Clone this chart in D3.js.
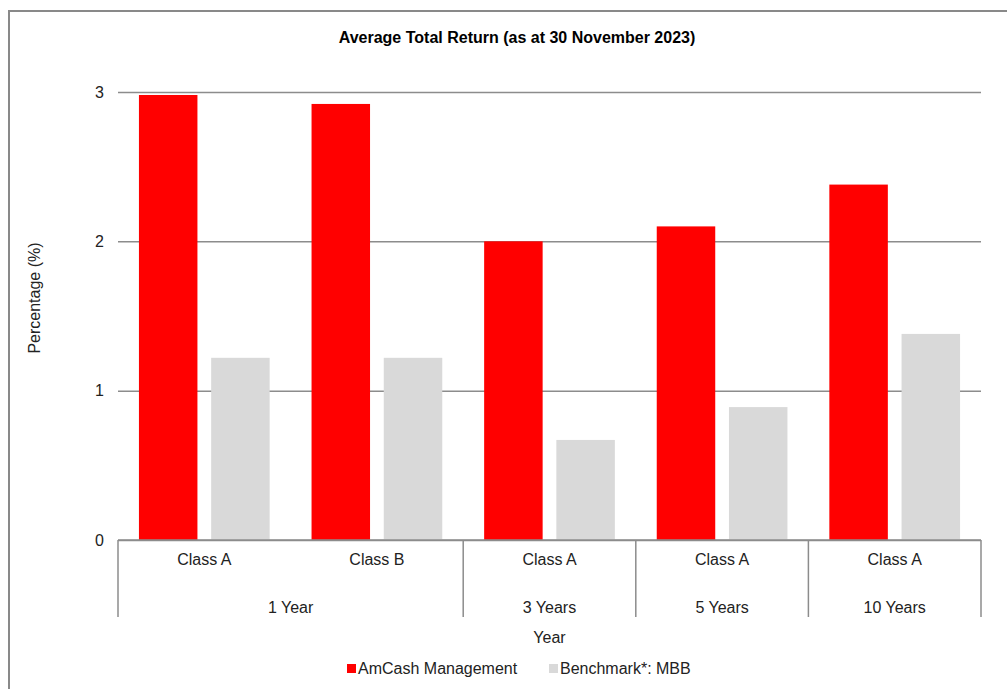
<!DOCTYPE html>
<html>
<head>
<meta charset="utf-8">
<script src="https://cdn.jsdelivr.net/npm/d3@7"></script>
<style>
	body { margin: 0; background: #fff; }
	svg text { font-family: "Liberation Sans", Arial, sans-serif; fill: #222; }
</style>
</head>
<body>
<div id="chart"></div>
<script>
'use strict'

/**
 * Average total return bar chart, two level category axis
 */

const classLabels = ['Class A', 'Class B', 'Class A', 'Class A', 'Class A'];
const periodLabels = ['1 Year', '1 Year', '3 Years', '5 Years', '10 Years'];
const seriesNames = ['AmCash Management', 'Benchmark*: MBB'];
const amcashValues = [2.98, 2.92, 2.00, 2.10, 2.38];
const benchmarkValues = [1.22, 1.22, 0.67, 0.89, 1.38];
const yTicks = [0, 1, 2, 3];

const colors = ['#ff0000', '#d9d9d9'];
const lineColor = '#8c8c8c';

const width = 1007;
const height = 689;
const plot = { left: 118, right: 981, top: 92, bottom: 540 };

const svg = d3.select('#chart')
	.append('svg')
	.attr('width', width)
	.attr('height', height);

// Cadre du graphique
svg.append('rect')
	.attr('x', 9)
	.attr('y', 11)
	.attr('width', 1040)
	.attr('height', 700)
	.attr('fill', 'white')
	.attr('stroke', '#898989')
	.attr('stroke-width', 2);

svg.append('text')
	.attr('x', 517)
	.attr('y', 43)
	.attr('text-anchor', 'middle')
	.style('font-size', '16px')
	.style('font-weight', 'bold')
	.style('fill', '#000')
	.text('Average Total Return (as at 30 November 2023)');

const categories = classLabels.map((c, i) => periodLabels[i] + ' ' + c);

const x0 = d3.scaleBand()
	.domain(categories)
	.range([plot.left, plot.right]);

const x1 = d3.scaleBand()
	.domain(seriesNames)
	.range([0, x0.bandwidth()])
	.paddingInner(0.19)
	.paddingOuter(0.29);

const y = d3.scaleLinear()
	.domain([0, 3])
	.range([plot.bottom, plot.top]);

// Grille horizontale
const yAxis = svg.append('g')
	.attr('transform', `translate(${plot.left},0)`)
	.call(d3.axisLeft(y).tickValues(yTicks).tickSize(-(plot.right - plot.left)).tickPadding(14).tickFormat(d3.format('d')));
yAxis.select('.domain').remove();
yAxis.selectAll('line').attr('stroke', lineColor).attr('stroke-width', 1.5);
yAxis.selectAll('text').style('font-size', '16px').style('fill', '#222');

// Barres
const rows = categories.map((c, i) => ({ cat: c, values: [amcashValues[i], benchmarkValues[i]] }));

svg.append('g')
	.selectAll('g')
	.data(rows)
	.enter()
	.append('g')
		.attr('transform', d => `translate(${x0(d.cat)},0)`)
	.selectAll('rect')
	.data(d => d.values.map((v, k) => ({ name: seriesNames[k], value: v, k: k })))
	.enter()
	.append('rect')
		.attr('x', d => x1(d.name))
		.attr('y', d => y(d.value))
		.attr('width', x1.bandwidth())
		.attr('height', d => y(0) - y(d.value))
		.attr('fill', d => colors[d.k]);

// Axe des catégories à deux niveaux
const axisG = svg.append('g');
const axisBottom = 617;

axisG.append('line')
	.attr('x1', plot.left).attr('x2', plot.right)
	.attr('y1', y(0)).attr('y2', y(0))
	.attr('stroke', lineColor).attr('stroke-width', 1.5);

axisG.selectAll('text.cls')
	.data(categories)
	.enter()
	.append('text')
		.attr('class', 'cls')
		.attr('x', d => x0(d) + x0.bandwidth() / 2)
		.attr('y', 565)
		.attr('text-anchor', 'middle')
		.style('font-size', '16px')
		.text((d, i) => classLabels[i]);

const groups = d3.groups(categories.map((c, i) => ({ cat: c, period: periodLabels[i] })), d => d.period)
	.map(([period, items]) => ({
		period: period,
		x1: x0(items[0].cat),
		x2: x0(items[items.length - 1].cat) + x0.bandwidth()
	}));

axisG.selectAll('line.sep')
	.data([groups[0].x1].concat(groups.map(g => g.x2)))
	.enter()
	.append('line')
		.attr('class', 'sep')
		.attr('x1', d => d).attr('x2', d => d)
		.attr('y1', y(0)).attr('y2', axisBottom)
		.attr('stroke', lineColor).attr('stroke-width', 1.5);

axisG.selectAll('text.grp')
	.data(groups)
	.enter()
	.append('text')
		.attr('class', 'grp')
		.attr('x', d => (d.x1 + d.x2) / 2)
		.attr('y', 613)
		.attr('text-anchor', 'middle')
		.style('font-size', '16px')
		.text(d => d.period);

// Titres des axes
svg.append('text')
	.attr('x', (plot.left + plot.right) / 2)
	.attr('y', 643)
	.attr('text-anchor', 'middle')
	.style('font-size', '16px')
	.text('Year');

svg.append('text')
	.attr('transform', 'translate(40,298) rotate(-90)')
	.attr('text-anchor', 'middle')
	.style('font-size', '16px')
	.text('Percentage (%)');

// Légende
const legendX = [347, 549];
const legend = svg.append('g')
	.selectAll('g')
	.data(seriesNames)
	.enter()
	.append('g')
		.attr('transform', (d, i) => `translate(${legendX[i]},664)`);

legend.append('rect')
	.attr('width', 9)
	.attr('height', 9)
	.attr('fill', (d, i) => colors[i]);

legend.append('text')
	.attr('x', 11)
	.attr('y', 10)
	.style('font-size', '16px')
	.text(d => d);
</script>
</body>
</html>
